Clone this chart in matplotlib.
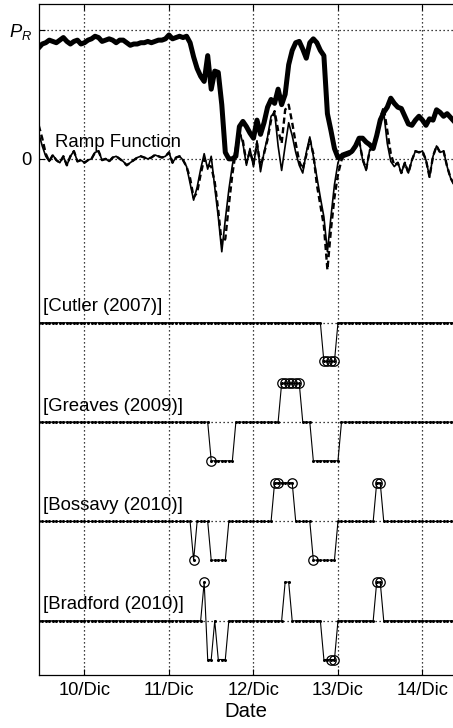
import numpy as np
import matplotlib
matplotlib.use("Agg")
import matplotlib.pyplot as plt

plt.rcParams['font.family'] = ['Liberation Sans', 'DejaVu Sans']
plt.rcParams['mathtext.fontset'] = 'custom'
plt.rcParams['mathtext.it'] = 'Liberation Sans:italic'
plt.rcParams['mathtext.rm'] = 'Liberation Sans'

# ---------------- data ----------------
start_day = 9 + 11 / 24.0          # first sample: 9/Dic 11:00, hourly samples
n_hours = 119

power = [0.86, 0.89, 0.90, 0.92, 0.91, 0.90, 0.92, 0.94, 0.91, 0.89,
         0.91, 0.92, 0.89, 0.90, 0.92, 0.93, 0.95, 0.94, 0.91, 0.92,
         0.93, 0.92, 0.90, 0.92, 0.92, 0.90, 0.88, 0.89, 0.89, 0.90,
         0.90, 0.91, 0.90, 0.91, 0.92, 0.92, 0.93, 0.96, 0.93, 0.94,
         0.95, 0.94, 0.95, 0.90, 0.79, 0.70, 0.64, 0.60, 0.80, 0.54,
         0.68, 0.67, 0.42, 0.05, 0.00, 0.00, 0.02, 0.25, 0.29, 0.25,
         0.20, 0.16, 0.30, 0.19, 0.28, 0.40, 0.46, 0.43, 0.54, 0.42,
         0.50, 0.73, 0.84, 0.90, 0.91, 0.85, 0.78, 0.90, 0.93, 0.90,
         0.84, 0.80, 0.35, 0.22, 0.08, 0.01, 0.02, 0.03, 0.04, 0.06,
         0.10, 0.16, 0.16, 0.13, 0.11, 0.08, 0.18, 0.30, 0.36, 0.40,
         0.47, 0.43, 0.40, 0.39, 0.33, 0.27, 0.26, 0.30, 0.33, 0.30,
         0.26, 0.31, 0.30, 0.38, 0.36, 0.33, 0.35, 0.32, 0.29]

ramp_solid = [0.20, 0.10, 0.02, -0.02, 0.03, -0.01, -0.03, 0.02, -0.05, 0.02,
              0.06, -0.02, -0.01, -0.03, -0.01, 0.00, 0.05, 0.06, -0.01, 0.00,
              -0.02, 0.01, 0.02, 0.00, -0.02, -0.05, -0.03, -0.01, 0.01, 0.02,
              0.01, 0.00, 0.01, 0.03, 0.02, 0.01, 0.02, 0.05, -0.03, 0.01,
              0.02, -0.01, -0.06, -0.19, -0.32, -0.22, -0.08, 0.04, -0.08, 0.02,
              -0.22, -0.45, -0.72, -0.47, -0.24, -0.05, 0.10, 0.22, 0.12, -0.05,
              0.08, -0.06, 0.14, -0.10, 0.05, 0.17, 0.33, 0.36, 0.10, -0.09,
              0.10, 0.28, 0.18, 0.05, -0.05, -0.11, 0.05, 0.17, 0.02, -0.14,
              -0.30, -0.45, -0.72, -0.45, -0.20, -0.03, 0.04, 0.05, 0.06, 0.05,
              0.10, 0.15, -0.01, -0.09, 0.07, 0.10, 0.20, 0.30, 0.36, 0.12,
              -0.02, -0.06, -0.03, -0.11, -0.03, -0.11, -0.01, 0.06, 0.05, 0.06,
              -0.01, -0.14, 0.02, 0.10, 0.05, 0.06, -0.06, -0.15, -0.20]

ramp_dashed = [0.26, 0.16, 0.04, -0.02, 0.03, -0.01, -0.03, 0.02, -0.05, 0.02,
               0.06, -0.02, -0.01, -0.03, -0.01, 0.00, 0.05, 0.06, -0.01, 0.00,
               -0.02, 0.01, 0.02, 0.00, -0.02, -0.05, -0.03, -0.01, 0.01, 0.02,
               0.01, 0.00, 0.01, 0.03, 0.02, 0.01, 0.02, 0.05, -0.03, 0.01,
               0.02, -0.01, -0.06, -0.15, -0.30, -0.26, -0.12, 0.00, -0.05, -0.06,
               -0.18, -0.40, -0.66, -0.62, -0.36, -0.12, 0.06, 0.20, 0.14, -0.03,
               0.06, -0.04, 0.12, -0.06, 0.04, 0.15, 0.30, 0.37, 0.22, 0.12,
               0.38, 0.42, 0.28, 0.12, -0.02, -0.08, 0.03, 0.15, 0.04, -0.20,
               -0.36, -0.52, -0.86, -0.55, -0.30, -0.12, -0.01, 0.04, 0.05, 0.05,
               0.09, 0.14, 0.00, -0.08, 0.06, 0.10, 0.20, 0.32, 0.40, 0.22,
               0.04, -0.05, -0.03, -0.11, -0.03, -0.11, -0.01, 0.06, 0.05, 0.06,
               -0.01, -0.14, 0.02, 0.10, 0.05, 0.06, -0.06, -0.15, -0.20]

# detected ramp events: (first hour index, last hour index, direction)
method_names = ['[Cutler (2007)]', '[Greaves (2009)]', '[Bossavy (2010)]', '[Bradford (2010)]']
cutler_events = [(81, 84, -1)]
greaves_events = [(49, 55, -1), (69, 74, 1), (78, 85, -1)]
bossavy_events = [(44, 44, -1), (49, 53, -1), (67, 72, 1), (78, 84, -1), (96, 97, 1)]
bradford_events = [(47, 47, 1), (48, 49, -1), (51, 53, -1), (70, 71, 1), (81, 84, -1), (96, 97, 1)]
# hours where detection matches an actual ramp (circled)
cutler_hits = [81, 82, 83, 84]
greaves_hits = [49, 69, 70, 71, 72, 73, 74]
bossavy_hits = [44, 67, 68, 72, 78, 96, 97]
bradford_hits = [47, 83, 84, 96, 97]

day_ticks = [10, 11, 12, 13, 14]
day_labels = ['10/Dic', '11/Dic', '12/Dic', '13/Dic', '14/Dic']

band_offsets = [-1.27, -2.04, -2.81, -3.58]
band_amp = 0.3

# ---------------- figure ----------------
W, H = 453, 728
fig = plt.figure(figsize=(W / 100, H / 100), dpi=100)
ax = fig.add_axes([38.7 / W, 53 / H, 1 - 38.7 / W, 671 / H])

t = start_day + np.arange(n_hours) / 24.0

dot_style = dict(color='black', linestyle=(0, (1.0, 2.2)), linewidth=0.9)

ax.plot(t, ramp_dashed, color='black', linewidth=1.7, linestyle=(0, (2.6, 1.5)), zorder=3)
ax.plot(t, ramp_solid, color='black', linewidth=1.2, zorder=4)
ax.plot(t, power, color='black', linewidth=3.6, solid_joinstyle='round', zorder=5)

ax.text(9.651, 0.095, 'Ramp Function', fontsize=13.4, va='baseline', ha='left', zorder=6)

all_events = [cutler_events, greaves_events, bossavy_events, bradford_events]
all_hits = [cutler_hits, greaves_hits, bossavy_hits, bradford_hits]
for name, ev, hits, off in zip(method_names, all_events, all_hits, band_offsets):
    sig = np.zeros(n_hours)
    for a, b, d in ev:
        sig[a:b + 1] = d
    y = off + band_amp * sig
    ax.axhline(off, **dot_style, zorder=1)
    ax.plot(t, y, color='black', linewidth=0.8, marker='o', markersize=2.2,
            markeredgewidth=0, zorder=3)
    hi = np.array(hits)
    ax.plot(t[hi], y[hi], linestyle='none', marker='o', markersize=6.8,
            markerfacecolor='none', markeredgecolor='black', markeredgewidth=0.9, zorder=4)
    ax.text(9.505, off + 0.088, name, fontsize=13.4, va='baseline', ha='left')

ax.set_xlim(start_day, start_day + (W - 38.7) / 84.5)
ax.set_ylim(-4.0, 1.2)

ax.set_xticks(day_ticks)
ax.set_xticklabels(day_labels, fontsize=13.2)
ax.set_yticks([0, 1])
ax.set_yticklabels(['0', '$P_R$'], fontsize=13.2)
ax.set_xlabel('Date', fontsize=14.7, labelpad=2)

for xv in day_ticks:
    ax.axvline(xv, **dot_style, zorder=1)
for yv in [0, 1]:
    ax.axhline(yv, **dot_style, zorder=1)

ax.tick_params(direction='in', length=4, width=0.8, top=True, right=False, pad=5)
ax.spines['right'].set_visible(False)
for s in ['left', 'top', 'bottom']:
    ax.spines[s].set_linewidth(0.9)

fig.savefig('out.png', dpi=100)
